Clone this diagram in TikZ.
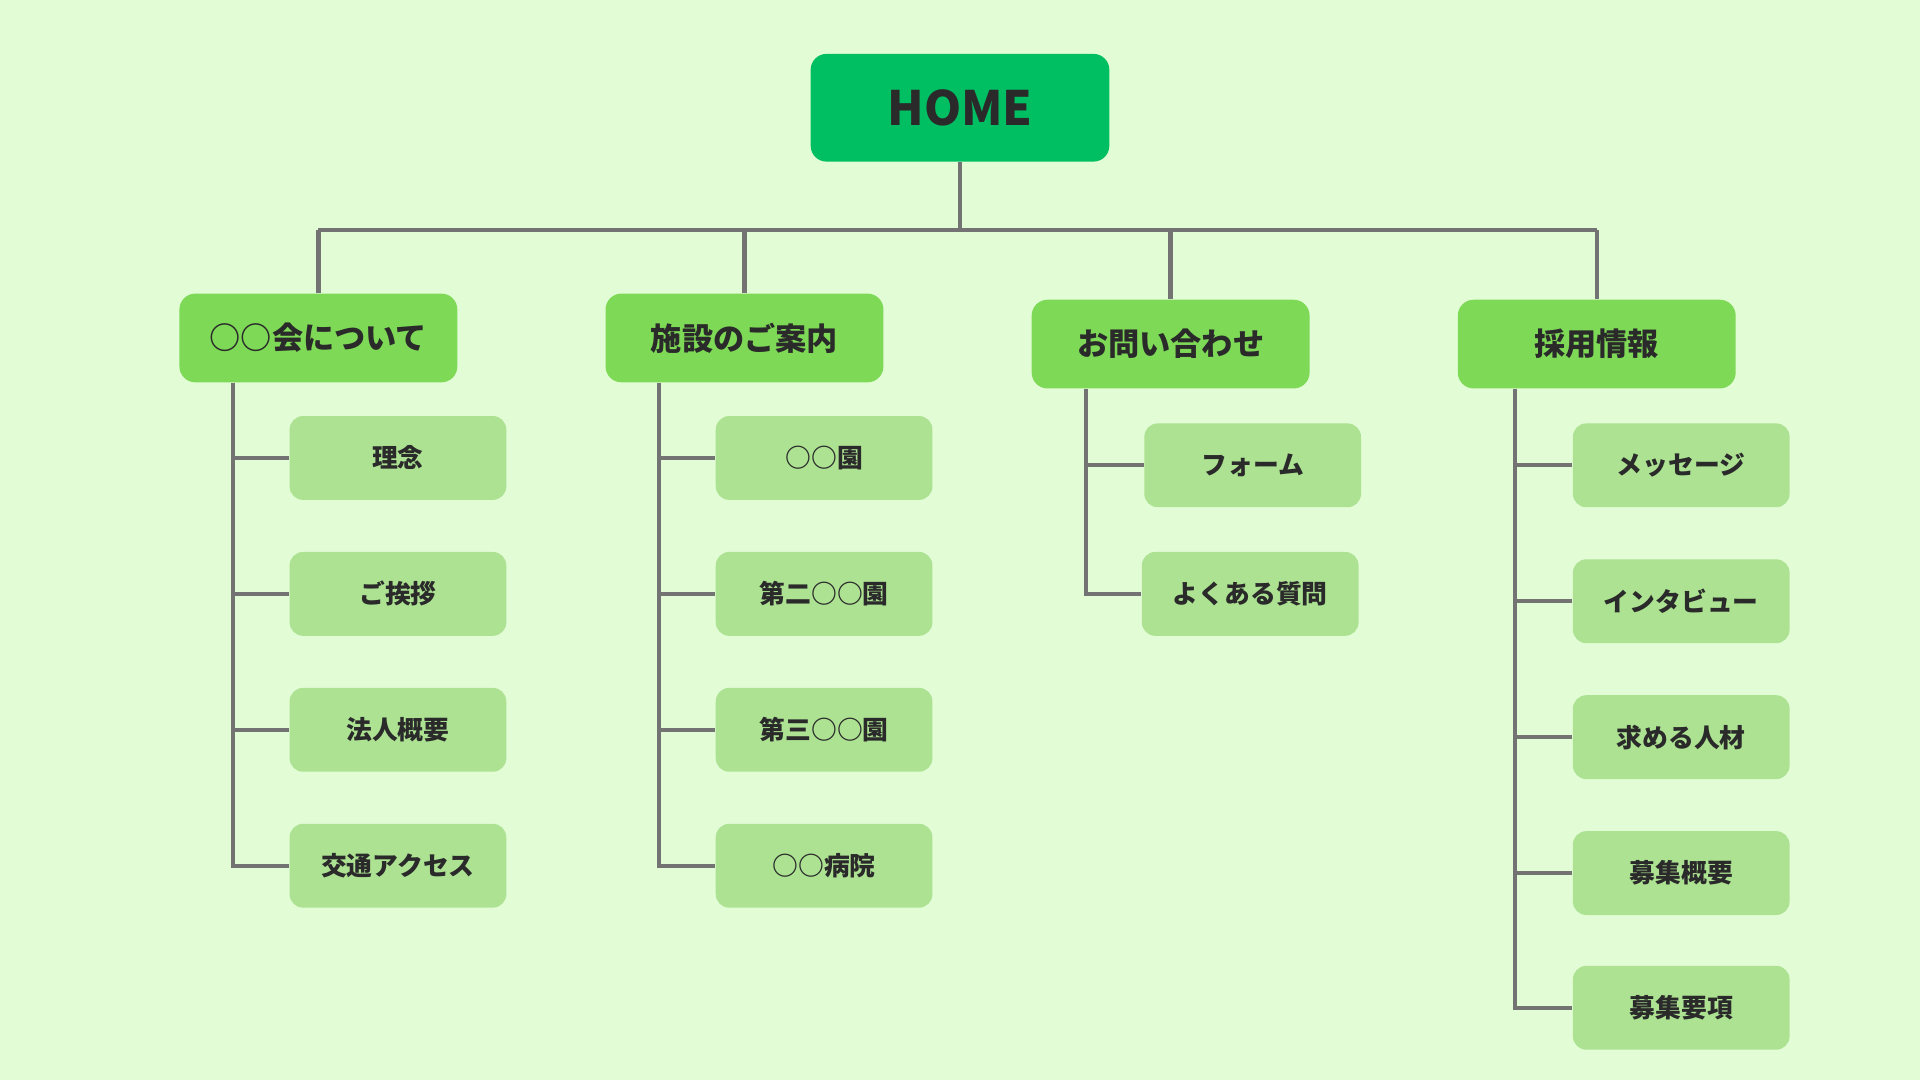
\documentclass[tikz,border=0pt]{standalone}
\usepackage{fontspec}
\setmainfont{Noto Sans CJK JP}
\usepackage{xcolor}
\usetikzlibrary{positioning,backgrounds,calc}
\definecolor{bgGreen}{HTML}{E2FDD6}
\definecolor{homeGreen}{HTML}{00BF63}
\definecolor{catGreen}{HTML}{7ED957}
\definecolor{pageGreen}{HTML}{ACE292}
\definecolor{lineGray}{HTML}{737373}
\definecolor{textDark}{HTML}{2A2A2A}
\tikzstyle{homebox} = [
    rounded corners=0.26cm,
    fill=homeGreen,
    minimum width=4.88cm,
    minimum height=1.76cm,
    text=textDark,
    font=\fontsize{22}{26}\selectfont\bfseries
]
\tikzstyle{catbox} = [
    rounded corners=0.26cm,
    fill=catGreen,
    minimum width=4.54cm,
    minimum height=1.45cm,
    text=textDark,
    font=\fontsize{14.5}{17}\selectfont\bfseries
]
\tikzstyle{pagebox} = [
    rounded corners=0.22cm,
    fill=pageGreen,
    minimum width=3.54cm,
    minimum height=1.37cm,
    text=textDark,
    font=\fontsize{12}{14}\selectfont\bfseries
]
\tikzstyle{conn} = [
    line width=2pt,
    draw=lineGray
]

\begin{document}
\begin{tikzpicture}[x=0.02cm,y=-0.02cm]
% Background
\fill[bgGreen] (0,0) rectangle (1568,882);
\useasboundingbox (0,0) rectangle (1568,882);

% Top node
\node[homebox] (home) at (784,88) {HOME};

% Categories
\node[catbox] (about) at (260,276) {○○会について};
\node[catbox] (facility) at (608,276) {施設のご案内};
\node[catbox] (contact) at (956,281) {お問い合わせ};
\node[catbox] (recruit) at (1304,281) {採用情報};

% Pages under each category
\node[pagebox] (rinen) at (325,374) {理念};
\node[pagebox] (greeting) at (325,485) {ご挨拶};
\node[pagebox] (profile) at (325,596) {法人概要};
\node[pagebox] (access) at (325,707) {交通アクセス};

\node[pagebox] (en1) at (673,374) {○○園};
\node[pagebox] (en2) at (673,485) {第二○○園};
\node[pagebox] (en3) at (673,596) {第三○○園};
\node[pagebox] (hospital) at (673,707) {○○病院};

\node[pagebox] (form) at (1023,380) {フォーム};
\node[pagebox] (faq) at (1021,485) {よくある質問};

\node[pagebox] (message) at (1373,380) {メッセージ};
\node[pagebox] (interview) at (1373,491) {インタビュー};
\node[pagebox] (talent) at (1373,602) {求める人材};
\node[pagebox] (outline) at (1373,713) {募集概要};
\node[pagebox] (terms) at (1373,823) {募集要項};

% Bus from HOME to the categories
\coordinate (bus) at (0,188);
\draw[conn] (home.south) -- (home.south |- bus);
\draw[conn] (about.north |- bus) -- (recruit.north |- bus);
\foreach \c in {about,facility,contact,recruit}
    \draw[conn] (\c.north |- bus) -- (\c.north);

% Trunks and branches
\coordinate (tA) at (190,0);
\coordinate (tB) at (538,0);
\coordinate (tC) at (887,0);
\coordinate (tD) at (1237,0);
\foreach \p in {rinen,greeting,profile,access}
    \draw[conn] (about.south -| tA) |- (\p.west);
\foreach \p in {en1,en2,en3,hospital}
    \draw[conn] (facility.south -| tB) |- (\p.west);
\foreach \p in {form,faq}
    \draw[conn] (contact.south -| tC) |- (\p.west);
\foreach \p in {message,interview,talent,outline,terms}
    \draw[conn] (recruit.south -| tD) |- (\p.west);
\end{tikzpicture}
\end{document}
